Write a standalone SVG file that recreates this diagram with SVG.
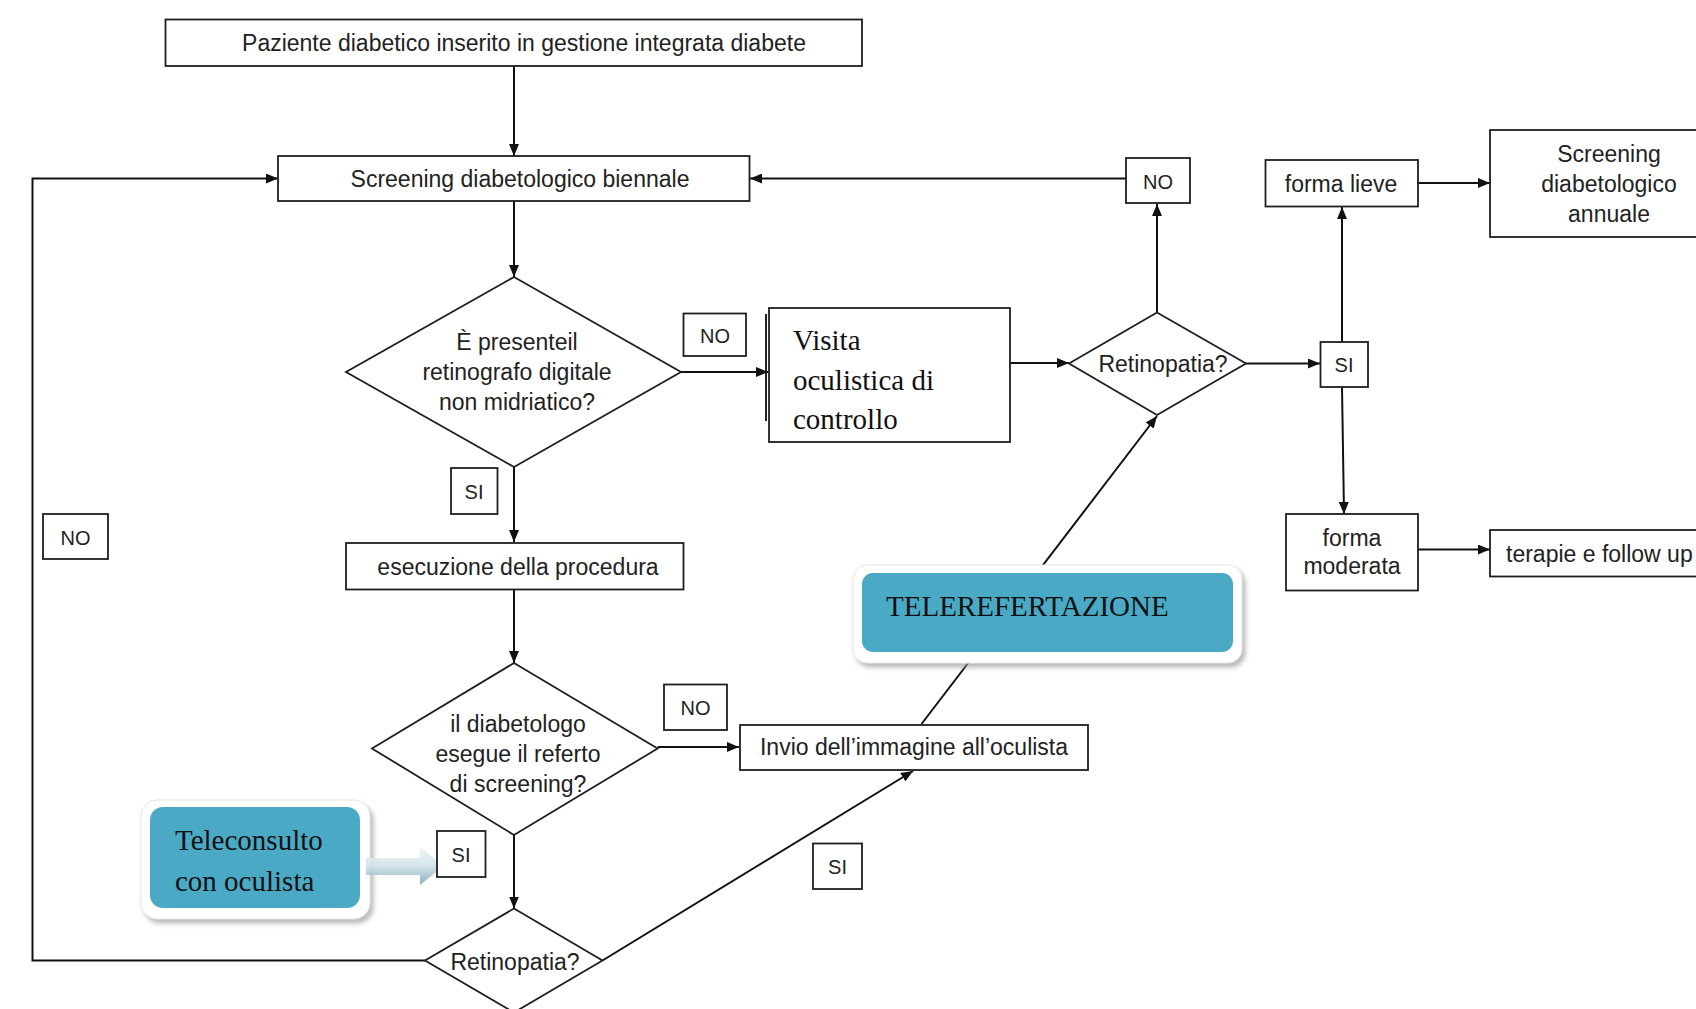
<svg xmlns="http://www.w3.org/2000/svg" width="1696" height="1009" viewBox="0 0 1696 1009">
<style>
.box{fill:#fff;stroke:#1f1f1f;stroke-width:1.8}
.t{font-family:"Liberation Sans",Arial,sans-serif;font-size:23px;fill:#222;text-anchor:middle}
.ts{font-family:"Liberation Sans",Arial,sans-serif;font-size:23px;fill:#222;text-anchor:start}
.lbl{font-family:"Liberation Sans",Arial,sans-serif;font-size:20px;fill:#222;text-anchor:middle}
.s{font-family:"Liberation Serif","Times New Roman",serif;font-size:29px;fill:#111}
.c{fill:none;stroke:#111;stroke-width:2}
.blue{fill:#4aaac6}
.frame{fill:#fff;stroke:#e6e6e6;stroke-width:1}
</style>
<defs>
<marker id="ah" markerWidth="12" markerHeight="10" refX="12" refY="5" orient="auto" markerUnits="userSpaceOnUse">
<path d="M0,0 L12,5 L0,10 z" fill="#111"/>
</marker>
<linearGradient id="ag" x1="0" y1="0" x2="0" y2="1">
<stop offset="0" stop-color="#eef5f8"/>
<stop offset="0.5" stop-color="#cfe1e8"/>
<stop offset="1" stop-color="#7fa9b8"/>
</linearGradient>
<filter id="sh" x="-10%" y="-10%" width="125%" height="130%">
<feDropShadow dx="3" dy="4" stdDeviation="2.5" flood-color="#9a9a9a" flood-opacity="0.7"/>
</filter>
</defs>

<g id="connectors">
<line class="c" x1="514" y1="66" x2="514" y2="156" marker-end="url(#ah)"/>
<line class="c" x1="514" y1="201" x2="514" y2="277" marker-end="url(#ah)"/>
<line class="c" x1="681" y1="372" x2="768" y2="372" marker-end="url(#ah)"/>
<line class="c" x1="1010" y1="363" x2="1069" y2="363" marker-end="url(#ah)"/>
<line class="c" x1="1157" y1="312" x2="1157" y2="204" marker-end="url(#ah)"/>
<line class="c" x1="1126" y1="178.5" x2="750" y2="178.5" marker-end="url(#ah)"/>
<line class="c" x1="1246" y1="363.5" x2="1320" y2="363.5" marker-end="url(#ah)"/>
<line class="c" x1="1342" y1="342" x2="1342" y2="207" marker-end="url(#ah)"/>
<line class="c" x1="1418" y1="183" x2="1490" y2="183" marker-end="url(#ah)"/>
<line class="c" x1="1342" y1="387" x2="1344" y2="514" marker-end="url(#ah)"/>
<line class="c" x1="1418" y1="549.5" x2="1490" y2="549.5" marker-end="url(#ah)"/>
<line class="c" x1="514" y1="467" x2="514" y2="542" marker-end="url(#ah)"/>
<line class="c" x1="514" y1="590" x2="514" y2="663" marker-end="url(#ah)"/>
<line class="c" x1="657.6" y1="747" x2="739" y2="747" marker-end="url(#ah)"/>
<line class="c" x1="921.5" y1="724" x2="1157" y2="416" marker-end="url(#ah)"/>
<line class="c" x1="514" y1="835" x2="514" y2="908.5" marker-end="url(#ah)"/>
<polyline class="c" points="425,960.5 32.5,960.5 32.5,178.5 278,178.5" marker-end="url(#ah)"/>
<line class="c" x1="602.5" y1="960.5" x2="913" y2="771" marker-end="url(#ah)"/>
</g>

<g id="n-paziente">
<rect class="box" x="165.5" y="19.5" width="696.5" height="46.5"/>
<text class="t" x="524" y="51">Paziente diabetico inserito in gestione integrata diabete</text>
</g>

<g id="n-screening-biennale">
<rect class="box" x="278" y="156" width="471.5" height="45"/>
<text class="t" x="520" y="187">Screening diabetologico biennale</text>
</g>

<g id="n-retinografo">
<polygon class="box" points="514,277 681,372 514,467 346,372"/>
<text class="t" x="517" y="350">È presenteil</text>
<text class="t" x="517" y="380">retinografo digitale</text>
<text class="t" x="517" y="410">non midriatico?</text>
</g>

<g id="l-no1">
<rect class="box" x="683.5" y="313.5" width="62.5" height="42.5"/>
<text class="lbl" x="715" y="343">NO</text>
</g>

<g id="n-visita">
<line x1="766" y1="314" x2="766" y2="421" stroke="#222" stroke-width="2"/>
<rect class="box" x="769" y="308" width="241" height="134"/>
<text class="s" x="793" y="350">Visita</text>
<text class="s" x="793" y="390">oculistica di</text>
<text class="s" x="793" y="429">controllo</text>
</g>

<g id="n-retinopatia1">
<polygon class="box" points="1157,312.5 1246,363.5 1157,415 1069,363.5"/>
<text class="t" x="1163" y="371.5">Retinopatia?</text>
</g>

<g id="l-no2">
<rect class="box" x="1126" y="158" width="64" height="45"/>
<text class="lbl" x="1158" y="188.5">NO</text>
</g>

<g id="l-si-right">
<rect class="box" x="1320.5" y="342" width="47.5" height="45"/>
<text class="lbl" x="1344" y="372">SI</text>
</g>

<g id="n-forma-lieve">
<rect class="box" x="1265.5" y="160" width="152.5" height="46.5"/>
<text class="t" x="1341" y="192">forma lieve</text>
</g>

<g id="n-screening-annuale">
<rect class="box" x="1490" y="130" width="240" height="107"/>
<text class="t" x="1609" y="161.5">Screening</text>
<text class="t" x="1609" y="192">diabetologico</text>
<text class="t" x="1609" y="222">annuale</text>
</g>

<g id="n-forma-moderata">
<rect class="box" x="1286" y="514" width="132" height="76.5"/>
<text class="t" x="1352" y="545.5">forma</text>
<text class="t" x="1352" y="574">moderata</text>
</g>

<g id="n-terapie">
<rect class="box" x="1490" y="530" width="240" height="46.5"/>
<text class="ts" x="1506" y="562">terapie e follow up</text>
</g>

<g id="l-si1">
<rect class="box" x="451" y="468" width="46.5" height="46"/>
<text class="lbl" x="474" y="499">SI</text>
</g>

<g id="n-esecuzione">
<rect class="box" x="346" y="543" width="337.5" height="46.5"/>
<text class="t" x="518" y="575">esecuzione della procedura</text>
</g>

<g id="n-referto">
<polygon class="box" points="514,663 657.6,748.5 514,835 372,748.5"/>
<text class="t" x="518" y="731.5">il diabetologo</text>
<text class="t" x="518" y="762">esegue il referto</text>
<text class="t" x="518" y="792">di screening?</text>
</g>

<g id="l-no3">
<rect class="box" x="664" y="684.5" width="63" height="45.5"/>
<text class="lbl" x="695.5" y="715">NO</text>
</g>

<g id="n-invio">
<rect class="box" x="740" y="725" width="348" height="45"/>
<text class="t" x="914" y="755">Invio dell’immagine all’oculista</text>
</g>

<g id="n-telerefertazione">
<rect class="frame" x="853" y="565" width="389" height="98" rx="14" filter="url(#sh)"/>
<rect class="blue" x="862" y="573" width="371" height="79" rx="11"/>
<text class="s" x="886" y="616">TELEREFERTAZIONE</text>
</g>

<g id="n-teleconsulto">
<rect class="frame" x="141" y="800" width="229" height="119" rx="16" filter="url(#sh)"/>
<rect class="blue" x="150" y="807" width="210" height="101" rx="13"/>
<text class="s" x="175" y="850">Teleconsulto</text>
<text class="s" x="175" y="891">con oculista</text>
</g>

<g id="teleconsulto-arrow">
<polygon points="366,858 420,858 420,847 444,866 420,885 420,875 366,875" fill="url(#ag)" opacity="0.9"/>
</g>

<g id="l-si2">
<rect class="box" x="437" y="831" width="48.5" height="46"/>
<text class="lbl" x="461" y="862">SI</text>
</g>

<g id="n-retinopatia2">
<polygon class="box" points="514,908.5 602.5,960.5 514,1012.5 425,960.5"/>
<text class="t" x="515" y="970">Retinopatia?</text>
</g>

<g id="l-no-left">
<rect class="box" x="43" y="514" width="65" height="45"/>
<text class="lbl" x="75.5" y="544.5">NO</text>
</g>

<g id="l-si3">
<rect class="box" x="813" y="843.5" width="49" height="45.5"/>
<text class="lbl" x="837.5" y="874">SI</text>
</g>
</svg>
